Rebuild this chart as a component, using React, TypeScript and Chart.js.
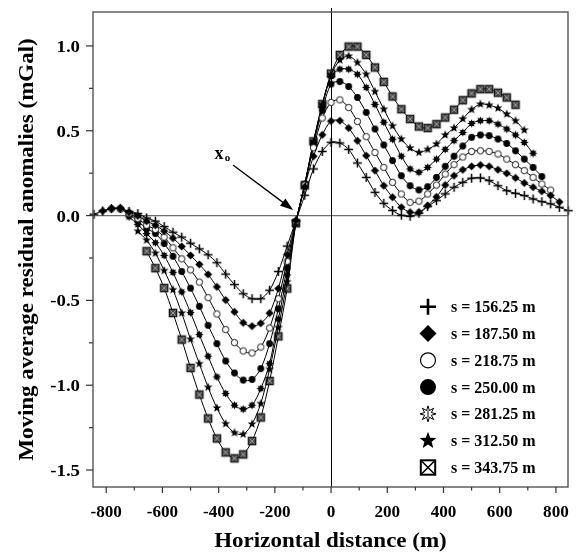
import { useEffect, useRef } from 'react';
import { Chart, registerables } from 'chart.js';

Chart.register(...registerables);

// Sampling grid (m)
const X_GRID = [
  -843.75, -812.5, -781.25, -750, -718.75, -687.5, -656.25, -625, -593.75, -562.5, -531.25,
  -500, -468.75, -437.5, -406.25, -375, -343.75, -312.5, -281.25, -250, -218.75, -187.5,
  -156.25, -125, -93.75, -62.5, -31.25, 0, 31.25, 62.5, 93.75, 125, 156.25,
  187.5, 218.75, 250, 281.25, 312.5, 343.75, 375, 406.25, 437.5, 468.75, 500,
  531.25, 562.5, 593.75, 625, 656.25, 687.5, 718.75, 750, 781.25, 812.5, 843.75,
];

// s = 156.25 m (from -843.75 to 843.75)
const S156 = [
  0.008, 0.027, 0.041, 0.043, 0.025, 0.012, -0.014, -0.033, -0.065, -0.098, -0.127,
  -0.163, -0.196, -0.231, -0.278, -0.345, -0.407, -0.461, -0.49, -0.49, -0.44, -0.33,
  -0.18, -0.03, 0.12, 0.275, 0.378, 0.432, 0.428, 0.39, 0.31, 0.225, 0.137,
  0.072, 0.03, 0.002, -0.004, 0.014, 0.053, 0.088, 0.128, 0.167, 0.196, 0.22,
  0.222, 0.206, 0.176, 0.147, 0.131, 0.118, 0.098, 0.082, 0.069, 0.049, 0.029,
];
// s = 187.50 m (from -812.5 to 812.5)
const S187 = [
  0.027, 0.041, 0.042, 0.02, -0.002, -0.033, -0.057, -0.092, -0.133, -0.182,
  -0.235, -0.288, -0.347, -0.42, -0.498, -0.568, -0.632, -0.652, -0.635, -0.575, -0.43,
  -0.23, -0.03, 0.17, 0.35, 0.476, 0.557, 0.559, 0.516, 0.441, 0.353, 0.265,
  0.176, 0.108, 0.049, 0.02, 0.02, 0.059, 0.11, 0.18, 0.235, 0.27, 0.29,
  0.298, 0.29, 0.27, 0.249, 0.222, 0.192, 0.167, 0.143, 0.118, 0.08,
];
// s = 218.75 m (from -781.25 to 781.25)
const S218 = [
  0.04, 0.04, 0.012, -0.018, -0.057, -0.082, -0.127, -0.19, -0.255,
  -0.32, -0.392, -0.484, -0.58, -0.672, -0.749, -0.798, -0.81, -0.775, -0.663, -0.49,
  -0.27, -0.035, 0.18, 0.4, 0.575, 0.667, 0.682, 0.637, 0.555, 0.465, 0.372,
  0.284, 0.196, 0.127, 0.078, 0.085, 0.127, 0.18, 0.245, 0.3, 0.345, 0.378,
  0.382, 0.378, 0.363, 0.333, 0.3, 0.265, 0.225, 0.186, 0.15,
];
// s = 250.00 m (from -750 to 750)
const S250 = [
  0.04, 0.006, -0.033, -0.076, -0.106, -0.165, -0.24, -0.33,
  -0.428, -0.535, -0.647, -0.755, -0.857, -0.928, -0.97, -0.966, -0.902, -0.755, -0.55,
  -0.31, -0.04, 0.185, 0.42, 0.62, 0.775, 0.79, 0.761, 0.696, 0.608, 0.51,
  0.416, 0.324, 0.235, 0.176, 0.151, 0.17, 0.225, 0.29, 0.35, 0.41, 0.461,
  0.475, 0.471, 0.451, 0.425, 0.382, 0.333, 0.284, 0.23,
];
// s = 281.25 m (from -718.75 to 718.75)
const S281 = [
  -0.008, -0.053, -0.106, -0.16, -0.235, -0.335, -0.45,
  -0.572, -0.702, -0.829, -0.951, -1.049, -1.118, -1.141, -1.118, -1.02, -0.873, -0.61,
  -0.35, -0.04, 0.185, 0.43, 0.645, 0.82, 0.863, 0.863, 0.833, 0.755, 0.655,
  0.55, 0.45, 0.35, 0.275, 0.255, 0.284, 0.333, 0.39, 0.442, 0.49, 0.543,
  0.559, 0.559, 0.539, 0.51, 0.475, 0.431, 0.367,
];
// s = 312.50 m (from -687.5 to 687.5)
const S312 = [
  -0.092, -0.145, -0.222, -0.324, -0.437, -0.575,
  -0.729, -0.873, -1.012, -1.134, -1.227, -1.28, -1.289, -1.229, -1.108, -0.906, -0.66,
  -0.39, -0.045, 0.18, 0.435, 0.655, 0.83, 0.916, 0.94, 0.902, 0.833, 0.731,
  0.627, 0.529, 0.451, 0.398, 0.372, 0.39, 0.422, 0.475, 0.516, 0.57, 0.625,
  0.657, 0.651, 0.633, 0.598, 0.559, 0.504,
];
// s = 343.75 m (from -656.25 to 656.25)
const S343 = [
  -0.21, -0.31, -0.427, -0.574, -0.731,
  -0.898, -1.055, -1.196, -1.314, -1.396, -1.431, -1.408, -1.329, -1.19, -0.975, -0.712,
  -0.43, -0.045, 0.178, 0.437, 0.657, 0.837, 0.947, 0.996, 0.996, 0.947, 0.873,
  0.788, 0.702, 0.627, 0.569, 0.525, 0.516, 0.539, 0.578, 0.624, 0.68, 0.72,
  0.745, 0.745, 0.724, 0.696, 0.653,
];

const SERIES_VALUES = [S156, S187, S218, S250, S281, S312, S343];
const SERIES_LABELS = [
  's = 156.25 m', 's = 187.50 m', 's = 218.75 m', 's = 250.00 m',
  's = 281.25 m', 's = 312.50 m', 's = 343.75 m',
];
const SERIES_SYMBOLS = ['plus', 'diamond', 'ocircle', 'fcircle', 'asterisk', 'star', 'xbox'];

const X_MAJOR = [-800, -600, -400, -200, 0, 200, 400, 600, 800];
const X_MAJOR_LABELS = ['-800', '-600', '-400', '-200', '0', '200', '400', '600', '800'];
const X_MINOR = [-700, -500, -300, -100, 100, 300, 500, 700];
const Y_MAJOR = [-1.5, -1.0, -0.5, 0.0, 0.5, 1.0];
const Y_MAJOR_LABELS = ['-1.5', '-1.0', '-0.5', '0.0', '0.5', '1.0'];
const Y_MINOR = [-1.25, -0.75, -0.25, 0.25, 0.75];

const X_TITLE = 'Horizontal distance (m)';
const Y_TITLE = 'Moving average residual anomalies (mGal)';
const ANNOT_TEXT = 'x';
const ANNOT_SUB = 'o';

const FONT = '"Liberation Serif", "Times New Roman", serif';

type Ctx = CanvasRenderingContext2D;

function starPath(ctx: Ctx, x: number, y: number, n: number, ro: number, ri: number) {
  ctx.beginPath();
  for (let i = 0; i < n * 2; i++) {
    const r = i % 2 === 0 ? ro : ri;
    const a = -Math.PI / 2 + (i * Math.PI) / n;
    const px = x + r * Math.cos(a);
    const py = y + r * Math.sin(a);
    if (i === 0) ctx.moveTo(px, py);
    else ctx.lineTo(px, py);
  }
  ctx.closePath();
}

function drawSymbol(ctx: Ctx, kind: string, x: number, y: number, r: number, big: boolean) {
  ctx.save();
  ctx.fillStyle = '#000';
  ctx.strokeStyle = '#000';
  switch (kind) {
    case 'plus':
      ctx.lineWidth = big ? 2.6 : 1.5;
      ctx.beginPath();
      ctx.moveTo(x - r, y);
      ctx.lineTo(x + r, y);
      ctx.moveTo(x, y - r);
      ctx.lineTo(x, y + r);
      ctx.stroke();
      break;
    case 'diamond':
      ctx.beginPath();
      ctx.moveTo(x, y - r);
      ctx.lineTo(x + r, y);
      ctx.lineTo(x, y + r);
      ctx.lineTo(x - r, y);
      ctx.closePath();
      ctx.fill();
      break;
    case 'ocircle':
      ctx.beginPath();
      ctx.arc(x, y, r, 0, Math.PI * 2);
      ctx.fillStyle = '#fff';
      ctx.fill();
      ctx.lineWidth = big ? 1.2 : 0.9;
      ctx.stroke();
      break;
    case 'fcircle':
      ctx.beginPath();
      ctx.arc(x, y, r, 0, Math.PI * 2);
      ctx.fill();
      break;
    case 'asterisk':
      if (big) {
        ctx.lineWidth = 1;
        starPath(ctx, x, y, 8, r, r * 0.45);
        ctx.fillStyle = '#fff';
        ctx.fill();
        ctx.stroke();
        ctx.beginPath();
        ctx.moveTo(x, y - r * 0.45);
        ctx.lineTo(x, y + r * 0.45);
        ctx.stroke();
      } else {
        starPath(ctx, x, y, 8, r, r * 0.55);
        ctx.fill();
      }
      break;
    case 'star':
      starPath(ctx, x, y, 5, r, r * 0.42);
      ctx.fill();
      break;
    case 'xbox':
      if (big) {
        ctx.lineWidth = 2;
        ctx.strokeRect(x - r, y - r, 2 * r, 2 * r);
        ctx.lineWidth = 1.5;
        ctx.beginPath();
        ctx.moveTo(x - r, y - r);
        ctx.lineTo(x + r, y + r);
        ctx.moveTo(x + r, y - r);
        ctx.lineTo(x - r, y + r);
        ctx.stroke();
      } else {
        ctx.fillStyle = '#4a4a4a';
        ctx.fillRect(x - r, y - r, 2 * r, 2 * r);
        ctx.lineWidth = 0.7;
        ctx.strokeStyle = '#bdbdbd';
        ctx.beginPath();
        ctx.moveTo(x - r + 1.2, y - r + 1.2);
        ctx.lineTo(x + r - 1.2, y + r - 1.2);
        ctx.moveTo(x + r - 1.2, y - r + 1.2);
        ctx.lineTo(x - r + 1.2, y + r - 1.2);
        ctx.stroke();
        ctx.lineWidth = 1.2;
        ctx.strokeStyle = '#111';
        ctx.strokeRect(x - r, y - r, 2 * r, 2 * r);
      }
      break;
  }
  ctx.restore();
}

const MARKER_R: Record<string, number> = {
  plus: 4.4, diamond: 4.1, ocircle: 3.2, fcircle: 3.4, asterisk: 4.3, star: 4.7, xbox: 3.7,
};
const LEGEND_R: Record<string, number> = {
  plus: 8, diamond: 8.5, ocircle: 7.5, fcircle: 8, asterisk: 8, star: 9, xbox: 7.2,
};

function makeMarker(kind: string): HTMLCanvasElement {
  const r = MARKER_R[kind];
  const s = Math.ceil(r * 2 + 4);
  const c = document.createElement('canvas');
  c.width = s;
  c.height = s;
  const ctx = c.getContext('2d') as Ctx;
  drawSymbol(ctx, kind, s / 2, s / 2, r, false);
  return c;
}

// draw text stretched horizontally (reference typeface is slightly wide)
function wideText(ctx: Ctx, text: string, x: number, y: number, sx: number) {
  ctx.save();
  ctx.translate(x, y);
  ctx.scale(sx, 1);
  ctx.fillText(text, 0, 0);
  ctx.restore();
}

const decorPlugin = {
  id: 'decor',
  beforeDatasetsDraw(chart: any) {
    const { ctx, chartArea: a, scales } = chart;
    const xs = scales.x;
    const ys = scales.y;
    ctx.save();
    const y0 = ys.getPixelForValue(0);
    ctx.strokeStyle = '#6e6e6e';
    ctx.lineWidth = 1.3;
    ctx.beginPath();
    ctx.moveTo(a.left, y0);
    ctx.lineTo(a.right, y0);
    ctx.stroke();
    const x0 = Math.round(xs.getPixelForValue(0)) + 0.5;
    ctx.strokeStyle = '#000';
    ctx.lineWidth = 1;
    ctx.beginPath();
    ctx.moveTo(x0, a.top - 4);
    ctx.lineTo(x0, a.bottom);
    ctx.stroke();
    ctx.restore();
  },
  afterDraw(chart: any) {
    const { ctx, chartArea: a, scales } = chart;
    const xs = scales.x;
    const ys = scales.y;
    ctx.save();
    // frame
    ctx.strokeStyle = '#555';
    ctx.lineWidth = 1.4;
    ctx.strokeRect(a.left, a.top, a.right - a.left, a.bottom - a.top);

    // y ticks
    ctx.strokeStyle = '#333';
    ctx.lineWidth = 1.2;
    ctx.fillStyle = '#000';
    ctx.font = `bold 16.5px ${FONT}`;
    ctx.textAlign = 'right';
    ctx.textBaseline = 'alphabetic';
    Y_MAJOR.forEach((v, i) => {
      const py = ys.getPixelForValue(v);
      ctx.beginPath();
      ctx.moveTo(a.left - 7, py);
      ctx.lineTo(a.left, py);
      ctx.stroke();
      wideText(ctx, Y_MAJOR_LABELS[i], a.left - 13, py + 6, 1.14);
    });
    Y_MINOR.forEach((v) => {
      const py = ys.getPixelForValue(v);
      ctx.beginPath();
      ctx.moveTo(a.left - 4, py);
      ctx.lineTo(a.left, py);
      ctx.stroke();
    });
    // x ticks
    ctx.textAlign = 'center';
    ctx.font = `bold 16px ${FONT}`;
    X_MAJOR.forEach((v, i) => {
      const px = xs.getPixelForValue(v);
      ctx.beginPath();
      ctx.moveTo(px, a.bottom);
      ctx.lineTo(px, a.bottom + 6);
      ctx.stroke();
      wideText(ctx, X_MAJOR_LABELS[i], px, a.bottom + 29.5, 1.07);
    });
    X_MINOR.forEach((v) => {
      const px = xs.getPixelForValue(v);
      ctx.beginPath();
      ctx.moveTo(px, a.bottom);
      ctx.lineTo(px, a.bottom + 3.5);
      ctx.stroke();
    });

    // titles
    ctx.font = `bold 21.5px ${FONT}`;
    ctx.textAlign = 'center';
    wideText(ctx, X_TITLE, (a.left + a.right) / 2, a.bottom + 59.5, 1.07);
    ctx.save();
    ctx.translate(a.left - 60, (a.top + a.bottom) / 2);
    ctx.rotate(-Math.PI / 2);
    ctx.scale(1.07, 1);
    ctx.fillText(Y_TITLE, 0, 0);
    ctx.restore();

    // annotation x0 with arrow
    const tx = xs.getPixelForValue(-399);
    const ty = ys.getPixelForValue(0.357);
    ctx.font = `bold 18px ${FONT}`;
    ctx.textAlign = 'center';
    ctx.textBaseline = 'alphabetic';
    ctx.fillText(ANNOT_TEXT, tx, ty + 4);
    ctx.font = `bold 11px ${FONT}`;
    ctx.fillText(ANNOT_SUB, tx + 8.5, ty + 6);
    const x1 = xs.getPixelForValue(-349);
    const y1 = ys.getPixelForValue(0.298);
    const x2 = xs.getPixelForValue(-135);
    const y2 = ys.getPixelForValue(0.033);
    const ang = Math.atan2(y2 - y1, x2 - x1);
    const hl = 13;
    const hw = 4.5;
    ctx.strokeStyle = '#000';
    ctx.lineWidth = 1.3;
    ctx.beginPath();
    ctx.moveTo(x1, y1);
    ctx.lineTo(x2 - Math.cos(ang) * (hl - 2), y2 - Math.sin(ang) * (hl - 2));
    ctx.stroke();
    ctx.beginPath();
    ctx.moveTo(x2, y2);
    ctx.lineTo(x2 - Math.cos(ang) * hl - Math.sin(ang) * hw, y2 - Math.sin(ang) * hl + Math.cos(ang) * hw);
    ctx.lineTo(x2 - Math.cos(ang) * hl + Math.sin(ang) * hw, y2 - Math.sin(ang) * hl - Math.cos(ang) * hw);
    ctx.closePath();
    ctx.fillStyle = '#000';
    ctx.fill();

    // legend
    const lx = a.right - 140;
    const ty0 = a.top + 294.7;
    const step = 26.8;
    ctx.font = `bold 16px ${FONT}`;
    ctx.textAlign = 'left';
    ctx.textBaseline = 'alphabetic';
    SERIES_LABELS.forEach((lab, i) => {
      const cy = ty0 + i * step;
      const kind = SERIES_SYMBOLS[i];
      drawSymbol(ctx, kind, lx, cy, LEGEND_R[kind], true);
      ctx.fillStyle = '#000';
      ctx.fillText(lab, lx + 23, cy + 5.5);
    });
    ctx.restore();
  },
};

export default function App() {
  const ref = useRef<HTMLCanvasElement | null>(null);

  useEffect(() => {
    if (!ref.current) return;
    const datasets = SERIES_VALUES.map((vals, i) => {
      const kind = SERIES_SYMBOLS[i];
      return {
        label: SERIES_LABELS[i],
        data: vals.map((y, j) => ({ x: X_GRID[i + j], y })),
        showLine: true,
        borderColor: '#000',
        backgroundColor: '#000',
        borderWidth: 1,
        tension: 0.3,
        pointStyle: makeMarker(kind),
        pointRadius: 4,
        clip: 6,
      };
    });
    const chart = new Chart(ref.current, {
      type: 'scatter',
      data: { datasets } as any,
      options: {
        animation: false,
        responsive: false,
        maintainAspectRatio: false,
        layout: { padding: { left: 93, top: 12, right: 12, bottom: 65 } },
        scales: {
          x: { type: 'linear', min: -847, max: 843, display: false },
          y: { type: 'linear', min: -1.6, max: 1.2, display: false },
        },
        plugins: { legend: { display: false }, tooltip: { enabled: false } },
      } as any,
      plugins: [decorPlugin],
    });
    return () => chart.destroy();
  }, []);

  return (
    <div style={{ position: 'absolute', left: 0, top: 0, width: 580, height: 552, background: '#fff' }}>
      <canvas ref={ref} width={580} height={552} style={{ display: 'block', width: 580, height: 552 }} />
    </div>
  );
}
